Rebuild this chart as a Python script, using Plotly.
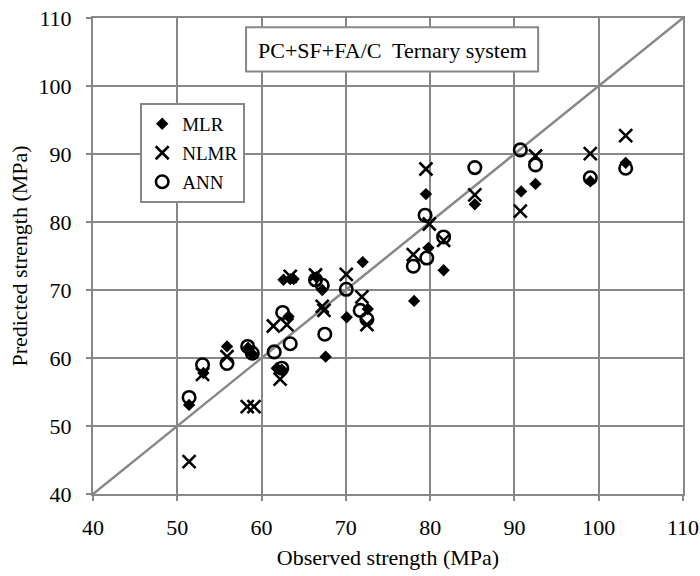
import plotly.graph_objects as go

# ---- data ----
mlr_obs = [51.4, 53.1, 55.9, 58.4, 58.9, 61.8, 62.4, 62.6, 63.2, 63.4, 63.8, 66.5, 67.2,
           67.6, 70.1, 72.0, 72.6, 78.1, 79.5, 79.8, 81.6, 85.3, 90.8, 92.5, 99.0, 103.2]
mlr_pred = [53.1, 57.8, 61.7, 61.5, 60.6, 58.5, 58.3, 71.5, 66.1, 71.6, 71.6, 71.9, 70.0,
            60.2, 66.0, 74.1, 67.2, 68.4, 84.1, 76.2, 72.9, 82.6, 84.5, 85.6, 86.0, 88.7]

nlmr_obs = [51.4, 53.0, 55.9, 58.3, 59.1, 61.4, 62.2, 63.0, 63.4, 66.4, 67.2, 67.4,
            70.05, 71.9, 72.5, 78.0, 79.5, 79.9, 81.6, 85.3, 90.7, 92.5, 99.0, 103.2]
nlmr_pred = [44.75, 57.6, 60.2, 52.85, 52.85, 64.7, 56.9, 64.9, 72.0, 72.2, 67.6, 67.0,
             72.3, 69.0, 64.9, 75.2, 87.8, 79.7, 77.3, 84.0, 81.6, 89.7, 90.05, 92.7]

ann_obs = [51.4, 53.0, 55.9, 58.35, 58.9, 61.5, 62.4, 62.5, 63.4, 66.4, 67.2, 67.5,
           70.05, 71.7, 72.5, 78.0, 79.4, 79.6, 81.6, 85.3, 90.7, 92.5, 99.0, 103.2]
ann_pred = [54.2, 59.0, 59.2, 61.7, 60.7, 60.9, 58.5, 66.7, 62.1, 71.5, 70.7, 63.5,
            70.1, 67.0, 65.7, 73.5, 81.0, 74.7, 77.8, 88.0, 90.6, 88.4, 86.5, 87.9]

axis_range = [40, 110]
axis_dtick = 10
series_names = ["MLR", "NLMR", "ANN"]
title_text = "PC+SF+FA/C  Ternary system"
x_title = "Observed strength (MPa)"
y_title = "Predicted strength (MPa)"

GRAY = "#878787"
FONT = "Liberation Serif, Times New Roman, serif"

fig = go.Figure()

fig.add_trace(go.Scatter(
    x=mlr_obs, y=mlr_pred, mode="markers", name=series_names[0], legendgroup="a",
    marker=dict(symbol="diamond", size=9.5, color="black", line=dict(width=0))))
fig.add_trace(go.Scatter(
    x=nlmr_obs, y=nlmr_pred, mode="markers", name=series_names[1], legendgroup="b",
    marker=dict(symbol="x-thin-open", size=13, color="black",
                line=dict(width=2.6, color="black"))))
fig.add_trace(go.Scatter(
    x=ann_obs, y=ann_pred, mode="markers", name=series_names[2], legendgroup="c",
    marker=dict(symbol="circle-open", size=12.5, color="black",
                line=dict(width=2.6, color="black"))))

# y = x reference line
fig.add_shape(type="line", xref="x", yref="y",
              x0=axis_range[0], y0=axis_range[0], x1=axis_range[1], y1=axis_range[1],
              line=dict(color=GRAY, width=2.5), layer="below")

# title box
fig.add_shape(type="rect", xref="paper", yref="paper",
              x0=0.2594, x1=0.7545, y0=0.8875, y1=0.9805,
              line=dict(color=GRAY, width=2), fillcolor="white", layer="above")
fig.add_annotation(text=title_text, xref="paper", yref="paper", x=0.507, y=0.932,
                   showarrow=False, font=dict(family=FONT, size=22, color="black"),
                   xanchor="center", yanchor="middle")

axis_common = dict(
    range=axis_range, dtick=axis_dtick, tick0=axis_range[0],
    showgrid=True, gridcolor=GRAY, gridwidth=2,
    showline=True, linecolor=GRAY, linewidth=2, mirror=True,
    ticks="outside", ticklen=5, tickcolor=GRAY, tickwidth=2,
    zeroline=False, automargin=False,
    tickfont=dict(family=FONT, size=22, color="black"),
)

fig.update_layout(
    width=700, height=576,
    margin=dict(l=93, r=17, t=18, b=82),
    paper_bgcolor="white", plot_bgcolor="white",
    font=dict(family=FONT, color="black"),
    xaxis=dict(**axis_common, ticklabelstandoff=8,
               title=dict(text=x_title, font=dict(family=FONT, size=22), standoff=10)),
    yaxis=dict(**axis_common, ticklabelstandoff=10,
               title=dict(text=y_title, font=dict(family=FONT, size=22), standoff=5)),
    showlegend=True,
    legend=dict(x=0.08, y=0.8217, xanchor="left", yanchor="top",
                bgcolor="white", bordercolor=GRAY, borderwidth=2,
                font=dict(family=FONT, size=19, color="black"),
                tracegroupgap=1.3, itemwidth=30),
)

fig.write_html(
    "out.html",
    config={"displayModeBar": False},
    post_script="document.body.style.margin='0';document.body.style.overflow='hidden';",
)
